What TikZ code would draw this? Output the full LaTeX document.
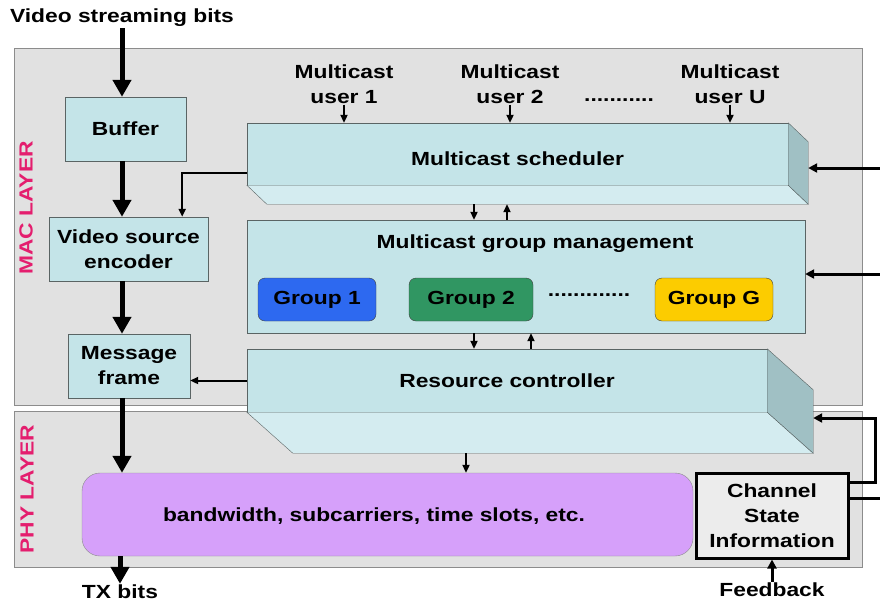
\documentclass[tikz,border=0pt]{standalone}
\usepackage{fontspec}
\setmainfont[FakeStretch=1.2]{Liberation Sans}
\usetikzlibrary{arrows.meta,calc,positioning}

\begin{document}
\begin{tikzpicture}[x=1pt, y=-1pt,
    font=\fontsize{19}{25}\selectfont\bfseries,
    box/.style={draw=boxline, fill=boxfill, inner sep=0pt, align=center},
    grp/.style={draw=black!75, rounded corners=7pt, inner sep=0pt,
                minimum width=118pt, minimum height=43pt},
    lbl/.style={inner sep=1pt, align=center},
    bigarr/.style={line width=5pt, -{Triangle[length=17pt,width=18pt]}},
    arr/.style={line width=2pt, -{Triangle[length=8pt,width=7pt]}},
    sidearr/.style={line width=3pt, -{Triangle[length=9pt,width=9pt]}}]
    % ----------- colours -----------
    \definecolor{layerbg}{RGB}{225,225,225}
    \definecolor{layerline}{RGB}{140,140,140}
    \definecolor{boxfill}{RGB}{196,228,232}
    \definecolor{boxtop}{RGB}{212,236,240}
    \definecolor{boxside}{RGB}{160,192,196}
    \definecolor{boxline}{RGB}{90,100,100}
    \definecolor{laypink}{RGB}{228,30,110}
    \definecolor{gone}{RGB}{45,105,240}
    \definecolor{gtwo}{RGB}{48,150,98}
    \definecolor{gG}{RGB}{252,204,0}
    \definecolor{alloc}{RGB}{214,160,250}
    \definecolor{csibg}{RGB}{236,236,236}

    \useasboundingbox (0,0) rectangle (880,603);

    % =====================================
    %            layers
    % =====================================
    \draw[layerline, fill=layerbg] (14,48) rectangle (862,405);
    \draw[layerline, fill=layerbg] (14,411) rectangle (862,567);
    \node[laypink, rotate=90] (maclbl) at (26,208) {MAC LAYER};
    \node[laypink, rotate=90] (phylbl) at (27,489) {PHY LAYER};

    % =====================================
    %            left column
    % =====================================
    \node[lbl] (vsb) at (122,18) {Video streaming bits};
    \node[box, minimum width=121pt, minimum height=64pt] (buffer) at (125.5,129) {Buffer};
    \node[box, minimum width=159pt, minimum height=64pt] (encoder) at (128.5,249) {Video source\\encoder};
    \node[box, minimum width=122pt, minimum height=64pt] (msgframe) at (129,366) {Message\\frame};

    % =====================================
    %            multicast users
    % =====================================
    \node[lbl] (u1) at (344,84) {Multicast\\user 1};
    \node[lbl] (u2) at (510,84) {Multicast\\user 2};
    \node[lbl] (uU) at (730,84) {Multicast\\user U};
    \node[lbl] (udots) at (619,100) {...........};

    % =====================================
    %            multicast scheduler (3D)
    % =====================================
    \node[box, minimum width=541pt, minimum height=62pt] (sched) at (517.5,154) {\rule{0pt}{23pt}Multicast scheduler};
    \draw[boxline, fill=boxtop] (sched.south west) -- ++(20,19)
        -- ($(sched.south east)+(20,19)$) -- (sched.south east) -- cycle;
    \draw[boxline, fill=boxside] (sched.north east) -- ++(20,19)
        -- ($(sched.south east)+(20,19)$) -- (sched.south east) -- cycle;
    \coordinate (schedbot) at ($(sched.south)+(0,19)$);
    \coordinate (schedside) at ($(sched.east)+(20,14)$);

    % =====================================
    %            group management
    % =====================================
    \node[box, minimum width=558pt, minimum height=113pt] (gm) at (526,276.5) {};
    \node[lbl] (gmtitle) at (535,244) {Multicast group management};
    \node[grp, fill=gone] (g1) at (317,299.5) {Group 1};
    \node[grp, fill=gtwo, minimum width=124pt] (g2) at (471,299.5) {Group 2};
    \node[lbl] (gdots) at (589,295) {.............};
    \node[grp, fill=gG] (gG) at (714,299.5) {Group G};

    % =====================================
    %            resource controller (3D)
    % =====================================
    \node[box, minimum width=520pt, minimum height=63pt] (rc) at (507,380.5) {Resource controller};
    \draw[boxline, fill=boxtop] (rc.south west) -- ++(46,41)
        -- ($(rc.south east)+(46,41)$) -- (rc.south east) -- cycle;
    \draw[boxline, fill=boxside] (rc.north east) -- ++(46,41)
        -- ($(rc.south east)+(46,41)$) -- (rc.south east) -- cycle;
    \coordinate (rcbot) at ($(rc.south)+(0,41)$);
    \coordinate (rcside) at ($(rc.east)+(46,37.5)$);

    % =====================================
    %            PHY layer
    % =====================================
    \node[draw=black!45, fill=alloc, rounded corners=18pt, minimum width=611pt,
          minimum height=83pt, inner sep=0pt] (alloc) at (387.5,514.5) {};
    \node[lbl] (alloctxt) at (374,516) {bandwidth, subcarriers, time slots, etc.};
    \node[draw, line width=3pt, fill=csibg, minimum width=152pt, minimum height=85pt,
          inner sep=0pt, align=center] (csi) at (772,515.5) {Channel\\State\\Information};
    \node[lbl] (tx) at (120,592) {TX bits};
    \node[lbl] (fb) at (772,590) {Feedback};

    % =====================================
    %            connectors
    % =====================================
    \draw[bigarr] (vsb.south) -- (buffer.north -| vsb.south);
    \draw[bigarr] (buffer.south -| vsb.south) -- (encoder.north -| vsb.south);
    \draw[bigarr] (encoder.south -| vsb.south) -- (msgframe.north -| vsb.south);
    \draw[bigarr] (msgframe.south -| vsb.south) -- (alloc.north -| vsb.south);
    \draw[bigarr] (alloc.south -| tx.north) -- (tx.north);

    \foreach \u in {u1,u2,uU}
        \draw[arr] (\u.south) -- (\u.south |- sched.north);

    \draw[arr] ([yshift=-19pt]sched.west) -| ([xshift=-26pt]encoder.north east);
    \draw[arr] (rc.west) -- (rc.west -| msgframe.east);

    \draw[arr] ([xshift=-52pt]gm.north |- schedbot) -- ([xshift=-52pt]gm.north);
    \draw[arr] ([xshift=-19pt]gm.north) -- ([xshift=-19pt]gm.north |- schedbot);
    \draw[arr] ([xshift=-52pt]gm.south) -- ([xshift=-52pt]gm.south |- rc.north);
    \draw[arr] ([xshift=5pt]gm.south |- rc.north) -- ([xshift=5pt]gm.south);
    \draw[arr] ([xshift=-41pt]rcbot) -- ([xshift=-41pt]rcbot |- alloc.north);

    \coordinate (inS) at ($(schedside)+(72,0)$);
    \coordinate (inG) at ($(gm.east)+(75,-2.5)$);
    \draw[sidearr] (inS) -- (schedside);
    \draw[sidearr] (inG) -- (inG -| gm.east);
    \draw[sidearr] ([yshift=33.5pt]csi.east) -| ([xshift=62pt]rcside) -- (rcside);
    \draw[line width=3pt] ([yshift=17.5pt]csi.east) -- ++(32,0);
    \draw[sidearr] (fb.north) -- (fb.north |- csi.south);

\end{tikzpicture}
\end{document}
